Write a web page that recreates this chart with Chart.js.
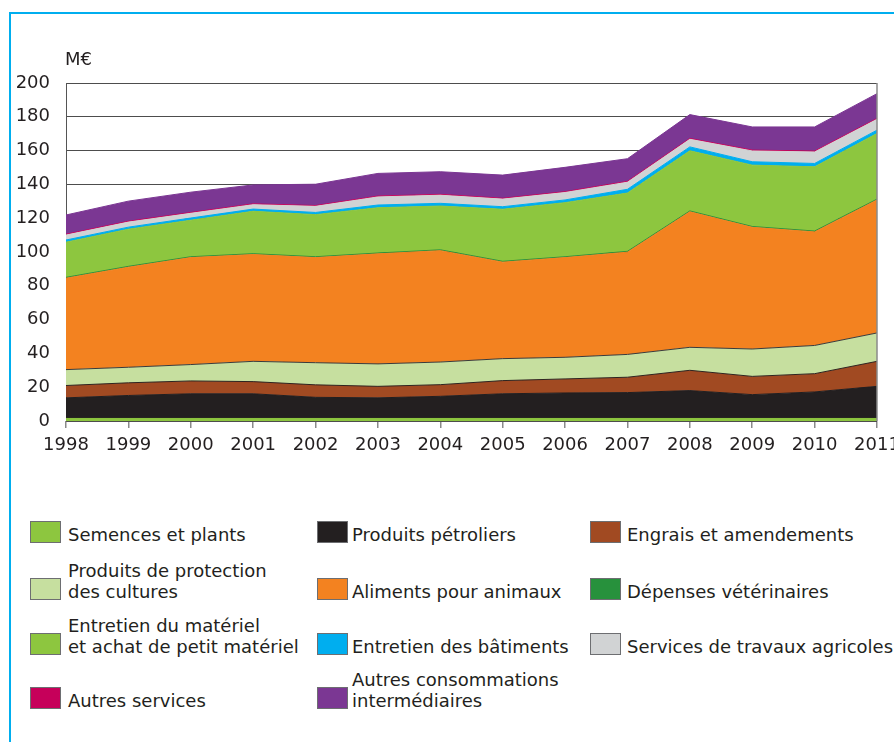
<!DOCTYPE html>
<html lang="fr">
<head>
<meta charset="utf-8">
<title>Consommations intermédiaires</title>
<script src="https://cdn.jsdelivr.net/npm/chart.js@4.4.1/dist/chart.umd.min.js"></script>
<style>
  html, body { margin: 0; padding: 0; background: #fff; overflow: hidden; }
  body { width: 894px; height: 742px; position: relative; font-family: "DejaVu Sans", sans-serif; color: #231f20; }
  #frame { position: absolute; left: 9px; top: 12px; width: 900px; height: 740px; border-left: 2px solid #00aeef; border-top: 2px solid #00aeef; }
  #plot { position: absolute; left: 0; top: 0; width: 920px; height: 470px; }
  .item { position: absolute; height: 22px; }
  .sw { position: absolute; left: 0; top: 0; width: 29px; height: 20px; border: 1px solid #6d6e71; }
  .lb { position: absolute; bottom: -2px; font-size: 18px; line-height: 21px; white-space: pre; }
</style>
</head>
<body>
<div id="frame"></div>
<div id="plot"><canvas id="chart"></canvas></div>
<div id="legend"></div>
<script>
// values in M€ (stack order bottom -> top)
const years = ['1998','1999','2000','2001','2002','2003','2004','2005','2006','2007','2008','2009','2010','2011'];
const semences      = [1.5,1.5,1.5,1.5,1.5,1.5,1.5,1.5,1.5,1.5,1.5,1.5,1.5,1.5];
const petrole       = [12.2,13.6,14.6,14.6,12.5,12.2,13.1,14.6,15.1,15.3,16.5,14.1,15.7,19.0];
const engrais       = [7.3,7.5,7.6,7.2,7.4,6.8,6.9,7.8,8.3,9.1,12.0,10.8,10.8,14.8];
const protection    = [9.4,9.2,9.7,12.0,13.1,13.3,13.4,13.0,12.8,13.5,13.6,16.2,16.7,16.8];
const aliments      = [54.1,59.2,63.3,63.2,62.2,65.1,65.9,57.1,59.0,60.5,80.2,72.0,67.2,78.7];
const veterinaire   = [0.5,0.5,0.5,0.5,0.5,0.5,0.5,0.5,0.5,0.5,0.5,0.5,0.5,0.5];
const materiel      = [20.8,22.0,21.6,25.1,24.9,26.8,25.9,30.8,32.0,34.5,35.6,36.3,38.0,38.8];
const batiments     = [1.3,1.2,1.3,1.3,1.3,1.6,1.6,1.5,1.6,2.2,2.3,2.0,2.0,2.0];
const travaux       = [2.9,3.0,2.8,2.6,3.6,4.8,4.8,4.5,4.4,4.2,4.5,6.4,6.8,6.4];
const autresServices= [0.5,0.5,0.5,0.5,0.5,0.5,0.5,0.5,0.5,0.5,0.5,0.5,0.5,0.5];
const autresConso   = [11.4,11.9,12.0,11.2,12.6,13.4,13.4,13.7,14.4,13.4,14.1,13.7,14.3,14.7];

const labels = ['Semences et plants','Produits pétroliers','Engrais et amendements',
  'Produits de protection\ndes cultures','Aliments pour animaux','Dépenses vétérinaires',
  'Entretien du matériel\net achat de petit matériel','Entretien des bâtiments','Services de travaux agricoles',
  'Autres services','Autres consommations\nintermédiaires'];
const colors = ['#8dc63f','#231f20','#a14a22','#c6df9f','#f38220','#27913c','#8dc63f','#00aeef','#d1d3d4','#c6005a','#7b3793'];
const edges  = ['#8dc63f','#231f20','#2e2520','#3a3a3a','#f38220','#27913c','#8dc63f','#00aeef','#d1d3d4','#c6005a','#7b3793'];
const series = [semences,petrole,engrais,protection,aliments,veterinaire,materiel,batiments,travaux,autresServices,autresConso];

const textColor = '#231f20';
const font = { family: '"DejaVu Sans", sans-serif', size: 18 };

const datasets = series.map((d, i) => ({
  label: labels[i].replace('\n', ' '),
  data: d,
  backgroundColor: colors[i],
  borderColor: edges[i],
  borderWidth: 1,
  fill: i === 0 ? 'origin' : '-1',
  pointRadius: 0,
  tension: 0
}));

// M€ unit and the right side frame of the plot
const frameLines = {
  id: 'frameLines',
  afterDraw(chart) {
    const { ctx, chartArea } = chart;
    ctx.save();
    ctx.strokeStyle = '#8a8a8a';
    ctx.lineWidth = 1.5;
    ctx.beginPath();
    ctx.moveTo(chartArea.right, chartArea.top);
    ctx.lineTo(chartArea.right, chartArea.bottom);
    ctx.stroke();
    ctx.fillStyle = textColor;
    ctx.font = '18px "DejaVu Sans", sans-serif';
    ctx.textBaseline = 'middle';
    ctx.fillText('M€', chartArea.left - 1, chartArea.top - 23);
    ctx.restore();
  }
};

new Chart(document.getElementById('chart'), {
  type: 'line',
  data: { labels: years, datasets },
  options: {
    responsive: true,
    maintainAspectRatio: false,
    animation: false,
    layout: { padding: { top: 83, right: 43, left: 0, bottom: 0 } },
    plugins: { legend: { display: false }, tooltip: { enabled: false } },
    scales: {
      x: {
        grid: { drawOnChartArea: false, tickLength: 7, color: '#8a8a8a', lineWidth: 1.5 },
        border: { display: false },
        ticks: { color: textColor, font, padding: 7, maxRotation: 0, autoSkip: false },
        afterFit: s => { s.height = 49; }
      },
      y: {
        stacked: true,
        min: 0,
        max: 200,
        ticks: { stepSize: 20, color: textColor, font, padding: 16 },
        grid: { color: '#4d4d4d', lineWidth: 1, drawTicks: false },
        border: { color: '#555', width: 1 },
        afterFit: s => { s.width = 66; }
      }
    }
  },
  plugins: [frameLines]
});

// legend, 3 columns, same order as the stack
const colSwatch = [30, 317, 590];
const colText = [68, 352, 627];
const rowTop = [521, 578, 633, 687];
const legend = document.getElementById('legend');
labels.forEach((lab, i) => {
  const c = i % 3, r = Math.floor(i / 3);
  const item = document.createElement('div');
  item.className = 'item';
  item.style.left = colSwatch[c] + 'px';
  item.style.top = rowTop[r] + 'px';
  item.innerHTML = '<div class="sw" style="background:' + colors[i] + '"></div>' +
    '<div class="lb" style="left:' + (colText[c] - colSwatch[c]) + 'px"></div>';
  item.querySelector('.lb').textContent = lab;
  legend.appendChild(item);
});
</script>
</body>
</html>
